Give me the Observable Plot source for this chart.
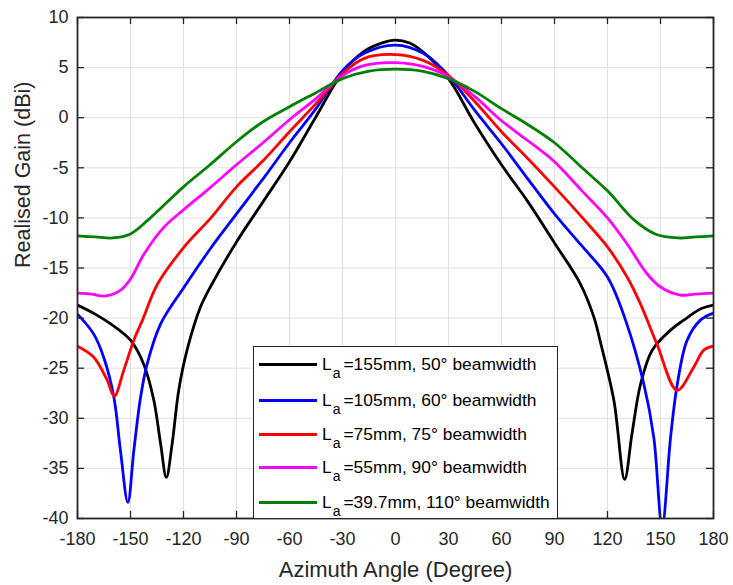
<!DOCTYPE html>
<html><head><meta charset="utf-8">
<script src="https://cdn.jsdelivr.net/npm/d3@7"></script>
<script src="https://cdn.jsdelivr.net/npm/@observablehq/plot@0.6"></script>
<style>
body{margin:0;background:#fff;font-family:"Liberation Sans",Arial,sans-serif;}
#wrap{position:relative;width:733px;height:585px;}
#legend{position:absolute;left:253px;top:346px;width:305px;height:173px;background:#fff;border:1px solid #262626;box-sizing:border-box;}
.row{position:absolute;left:0;height:34px;display:flex;align-items:center;white-space:nowrap;}
.sw{display:inline-block;width:58px;height:3px;margin-left:5px;margin-right:5px;}
.lbl{font-size:17.4px;color:#000;}
.sub{font-size:14px;position:relative;top:8px;margin-left:1px;margin-right:3px;}
</style>
</head><body>
<div id="wrap"></div>
<script>
// ---- data ----
const xTicks = [-180,-150,-120,-90,-60,-30,0,30,60,90,120,150,180];
const yTicks = [-40,-35,-30,-25,-20,-15,-10,-5,0,5,10];

const seriesNames = ["155mm, 50° beamwidth","105mm, 60° beamwidth","75mm, 75° beamwidth","55mm, 90° beamwidth","39.7mm, 110° beamwidth"];
const seriesColors = ["#000000","#0000ff","#ff0000","#ff00ff","#008000"];

const blackAz = [-180,-170,-161,-150,-142.5,-136.8,-133,-129.7,-126.4,-122.7,-118,-110.4,-104.5,-90,-75,-60,-45,-30,-18,-8,0,8,16,30,44.3,60,75,90,104.7,112.3,116,123.6,129.7,133.9,138.7,145.3,155.7,163.2,172.6,180];
const blackGain = [-18.7,-19.6,-20.6,-22.2,-24.6,-28.2,-32.5,-35.9,-32.5,-27.2,-23.2,-18.9,-16.8,-12.4,-8.4,-4.4,0.1,4.5,6.6,7.45,7.75,7.45,6.5,3.9,-0.4,-4.7,-8.4,-12.5,-16.6,-19.9,-22.4,-28.2,-36.1,-31.5,-26.6,-23.2,-21.2,-20.2,-19.1,-18.7];

const blueAz = [-180,-170.8,-165,-159.4,-155.7,-151.5,-148.1,-144.3,-140.6,-133,-119.6,-104.5,-90,-73.7,-60,-45,-30,-18,0,16,30,45,60,73.6,90,105,120,130.2,140.6,146.2,150.9,155.7,159.5,165.1,172.6,180];
const blueGain = [-19.6,-21.6,-24.0,-27.9,-33.2,-38.4,-33.2,-27.9,-24.6,-20.6,-16.9,-13.0,-9.6,-5.8,-2.5,0.9,4.7,6.4,7.25,6.4,4.2,0.7,-2.6,-5.8,-9.6,-12.7,-15.9,-20.2,-26.6,-31.9,-40.8,-31.9,-26.6,-22.2,-20.2,-19.5];

const redAz = [-180,-170.8,-163.2,-159.2,-153.8,-148.1,-143.2,-134.7,-119.6,-104.5,-90,-75,-60,-45,-30,-18,0,16,30,45,60,75,90,105.4,120,131.1,138.7,148,159.4,168.8,174.5,180];
const redGain = [-22.8,-23.9,-26.2,-27.8,-25.2,-22.2,-20.2,-16.6,-12.9,-10.0,-6.9,-4.3,-1.4,1.4,4.4,5.9,6.3,5.7,4.2,1.6,-1.4,-4.1,-6.9,-9.9,-12.9,-15.9,-18.6,-22.6,-27.2,-24.9,-23.2,-22.8];

const magentaAz = [-180,-172,-164.9,-155.5,-150,-142.3,-130.9,-120,-105,-90,-75,-60,-45,-30,-18,0,16,30,45,60,75,90,105,120,131.1,142.5,150,161.3,170,180];
const magentaGain = [-17.5,-17.6,-17.8,-17.2,-16.1,-13.6,-10.9,-9.2,-7.0,-4.7,-2.5,-0.2,1.9,4.2,5.2,5.5,5.1,4.1,2.1,-0.3,-2.3,-4.4,-7.2,-10.0,-12.6,-15.6,-16.9,-17.7,-17.6,-17.5];

const greenAz = [-180,-170,-160,-150,-140,-120,-105,-90,-75,-60,-45,-30,-15,0,15,30,45,60,75,90,105,120,135,147,160,170,180];
const greenGain = [-11.8,-11.9,-12.0,-11.6,-10.2,-6.9,-4.7,-2.4,-0.4,1.1,2.5,3.9,4.65,4.85,4.65,3.9,2.6,0.9,-0.7,-2.5,-4.9,-7.3,-10.2,-11.6,-12.0,-11.9,-11.8];

const seriesAz = [blackAz, blueAz, redAz, magentaAz, greenAz];
const seriesGain = [blackGain, blueGain, redGain, magentaGain, greenGain];

const rows = seriesNames.flatMap((name, s) => seriesAz[s].map((a, i) => ({series: name, az: a, gain: seriesGain[s][i]})));

const fmt = d => String(d);
const ink = "#262626";

const chart = Plot.plot({
  width: 733, height: 585,
  marginLeft: 77, marginRight: 20, marginTop: 17, marginBottom: 67,
  style: {fontFamily: "'Liberation Sans', Arial, sans-serif", fontSize: "18px", color: ink, background: "#fff"},
  x: {domain: [-180, 180]},
  y: {domain: [-40, 10]},
  color: {domain: seriesNames, range: seriesColors},
  marks: [
    Plot.gridX(xTicks, {stroke: "#e0e0e0", strokeOpacity: 1}),
    Plot.gridY(yTicks, {stroke: "#e0e0e0", strokeOpacity: 1}),
    Plot.line(rows, {x: "az", y: "gain", z: "series", stroke: "series", strokeWidth: 2.8, curve: "catmull-rom", clip: true}),
    Plot.axisX(xTicks, {tickSize: 0, tickPadding: 14, tickFormat: fmt, label: null, fontSize: 18, fill: ink}),
    Plot.axisY(yTicks, {tickSize: 0, tickPadding: 9, tickFormat: fmt, label: null, fontSize: 18, fill: ink}),
    Plot.tickX(xTicks, {x: d => d, insetTop: 494, stroke: ink, strokeWidth: 1.3}),
    Plot.tickX(xTicks, {x: d => d, insetBottom: 494, stroke: ink, strokeWidth: 1.3}),
    Plot.tickY(yTicks, {y: d => d, insetRight: 629, stroke: ink, strokeWidth: 1.3}),
    Plot.tickY(yTicks, {y: d => d, insetLeft: 629, stroke: ink, strokeWidth: 1.3}),
    Plot.frame({stroke: ink, strokeWidth: 1.8}),
    Plot.text(["Azimuth Angle (Degree)"], {text: d => d, frameAnchor: "bottom", dy: 51, lineAnchor: "middle", fontSize: 22, fill: ink}),
    Plot.text(["Realised Gain (dBi)"], {text: d => d, frameAnchor: "left", dx: -54, rotate: -90, lineAnchor: "middle", fontSize: 21.5, fill: ink})
  ]
});

const wrap = document.getElementById("wrap");
wrap.appendChild(chart);

const legend = document.createElement("div");
legend.id = "legend";
const rowTops = [0, 36, 70, 103, 138];
seriesNames.forEach((name, i) => {
  const r = document.createElement("div");
  r.className = "row";
  r.style.top = rowTops[i] + "px";
  r.innerHTML = `<span class="sw" style="background:${seriesColors[i]}"></span><span class="lbl">L<span class="sub">a</span>=${name}</span>`;
  legend.appendChild(r);
});
wrap.appendChild(legend);
</script>
</body></html>
